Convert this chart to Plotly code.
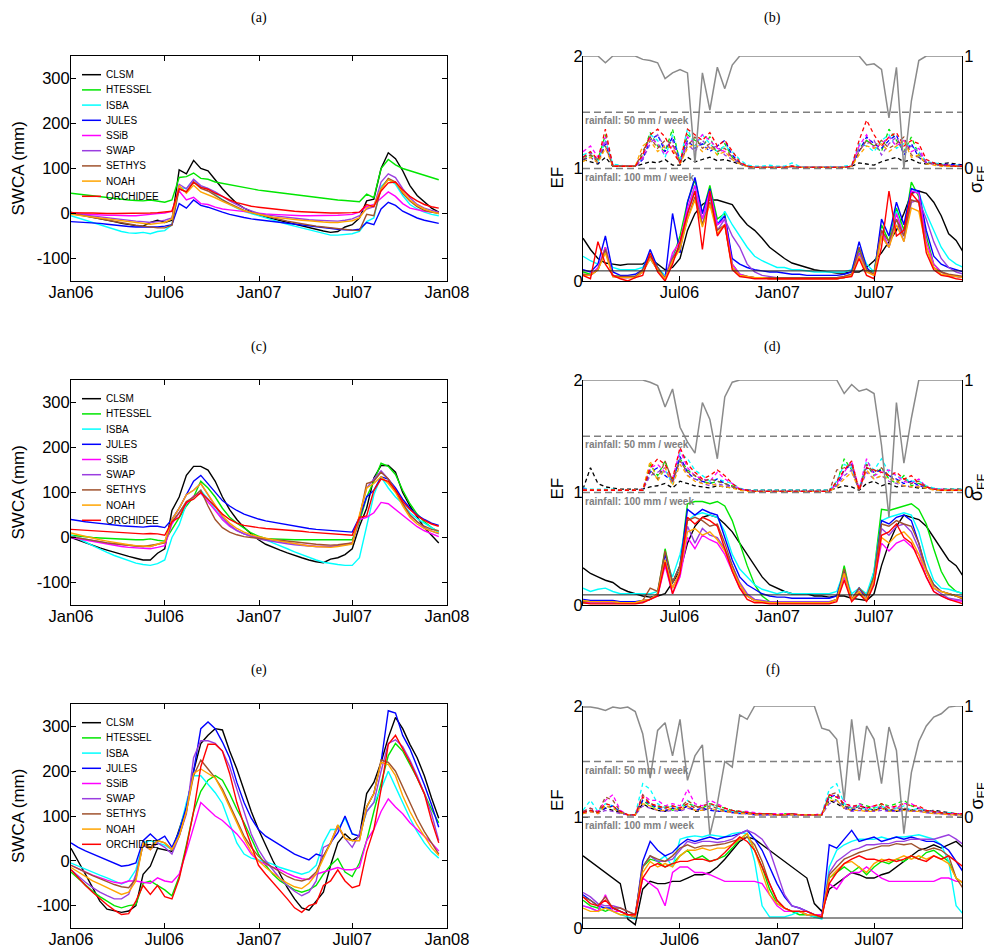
import pandas as pd
import plotly.graph_objects as go

# the page adds an 8 px body margin, so the figure is 8 px smaller and all
# pixel positions below are measured on the full 992 x 947 window
PAGE_OFF = 8
W, H = 992 - PAGE_OFF, 947 - PAGE_OFF

# weekly model output, sampled every two weeks
dates = pd.date_range("2006-01-01", periods=52, freq="14D")

models = ["CLSM", "HTESSEL", "ISBA", "JULES", "SSiB", "SWAP", "SETHYS", "NOAH", "ORCHIDEE"]
colors = ["#000000", "#00e600", "#00ffff", "#0000ff", "#ff00ff", "#9a3ee0", "#a0522d", "#ffa500", "#ff0000"]

panel_tags = ["(a)", "(b)", "(c)", "(d)", "(e)", "(f)"]
swca_ticks = [-100, 0, 100, 200, 300]
swca_ticktext = ["-100", "0", "100", "200", "300"]
date_ticks = ["2006-01-01", "2006-07-01", "2007-01-01", "2007-07-01", "2008-01-01"]
date_ticktext = ["Jan06", "Jul06", "Jan07", "Jul07", "Jan08"]
ef_ref = 0.09
rain_marks = [50, 100]

# SWCA (mm), left column
swca_a = {
    "CLSM": [3,-2,-5,-8,-12,-15,-18,-22,-25,-27,-28,-20,-15,-20,-15,97,88,118,100,95,75,55,38,22,12,4,-3,-8,-12,-16,-20,-24,-28,-32,-36,-39,-42,-40,-30,-25,-10,28,32,100,135,122,95,62,40,25,12,3],
    "HTESSEL": [45,43,41,39,37,35,33,32,30,29,28,30,27,25,30,80,82,90,78,76,70,67,64,60,58,55,52,50,48,45,43,41,39,37,35,33,31,30,29,28,26,43,35,100,120,108,100,95,90,85,80,75],
    "ISBA": [-5,-10,-15,-20,-25,-30,-35,-40,-43,-44,-42,-45,-40,-38,-25,58,55,75,60,55,42,30,20,12,5,0,-5,-10,-15,-20,-24,-28,-32,-36,-40,-44,-48,-48,-46,-45,-40,-18,-10,60,75,65,40,20,10,3,-2,-5],
    "JULES": [-18,-19,-20,-20,-22,-24,-26,-28,-29,-30,-30,-31,-30,-28,-25,22,12,30,18,14,8,3,-2,-6,-9,-12,-14,-16,-18,-20,-22,-24,-26,-28,-30,-32,-34,-35,-36,-37,-35,-20,-25,10,25,18,5,-3,-10,-15,-19,-22],
    "SSiB": [0,-1,-2,-3,-3,-4,-4,-5,-5,-5,-4,-2,0,1,5,50,30,36,22,20,14,10,8,6,4,2,0,-1,-2,-3,-4,-5,-5,-5,-5,-5,-5,-4,-3,-2,3,15,20,35,48,38,22,12,8,5,3,2],
    "SWAP": [0,-2,-4,-6,-8,-10,-12,-14,-15,-17,-18,-20,-18,-15,-10,65,55,76,62,56,48,38,28,20,12,6,0,-3,-5,-7,-9,-11,-13,-14,-15,-16,-17,-17,-15,-12,-5,10,15,70,88,80,55,35,20,12,7,3],
    "SETHYS": [0,-3,-6,-9,-12,-15,-18,-21,-24,-26,-28,-30,-32,-32,-26,55,48,70,56,50,40,30,22,14,7,2,-2,-6,-10,-13,-17,-20,-23,-26,-28,-30,-32,-34,-36,-37,-38,-2,-5,55,78,70,45,28,15,7,3,0],
    "NOAH": [-2,-4,-6,-8,-10,-12,-14,-16,-18,-20,-22,-24,-22,-20,-12,62,45,63,48,42,35,27,20,12,6,2,-2,-5,-8,-10,-12,-14,-15,-16,-18,-19,-20,-20,-18,-16,-10,12,18,55,75,68,48,30,18,10,4,0],
    "ORCHIDEE": [2,1,1,1,0,0,0,0,0,0,0,1,2,3,5,55,48,70,58,54,45,38,30,24,20,16,14,12,10,8,6,5,4,3,2,2,1,1,1,2,3,20,15,50,68,70,52,38,28,20,15,12],
}
swca_c = {
    "CLSM": [0,-6,-12,-18,-23,-28,-33,-38,-42,-46,-50,-50,-35,-25,60,90,138,158,158,150,125,90,62,40,22,8,-5,-15,-22,-28,-34,-40,-45,-50,-54,-56,-48,-45,-38,-25,25,65,132,160,160,145,100,70,45,22,5,-12],
    "HTESSEL": [5,3,2,0,-1,-2,-3,-4,-4,-5,-5,-3,-6,-8,18,45,70,90,125,110,90,65,45,32,20,10,3,-2,-3,-4,-5,-5,-5,-5,-5,-5,-5,-4,-5,-5,35,90,125,165,158,140,105,75,52,35,22,12],
    "ISBA": [5,-2,-10,-18,-26,-33,-40,-46,-52,-57,-60,-62,-58,-50,0,28,75,90,105,85,62,40,25,15,8,4,0,-5,-12,-18,-25,-32,-38,-45,-50,-55,-58,-60,-62,-62,-45,25,95,135,110,90,75,55,42,32,22,12],
    "JULES": [40,37,35,33,31,29,27,26,25,24,23,25,25,22,40,65,95,125,138,120,100,82,70,60,52,46,41,37,34,31,28,25,22,20,18,17,16,14,13,12,45,90,105,135,130,110,85,65,50,40,32,27],
    "SSiB": [0,-3,-6,-9,-12,-15,-18,-20,-22,-23,-24,-25,-22,-18,30,55,75,92,98,80,60,40,25,15,8,3,0,-3,-6,-9,-12,-14,-16,-18,-20,-20,-20,-18,-15,-12,40,45,55,78,75,62,48,35,24,15,8,2],
    "SWAP": [2,-1,-4,-7,-10,-12,-14,-16,-18,-19,-20,-20,-15,-10,40,65,95,105,120,95,70,45,28,16,8,2,-3,-6,-9,-12,-14,-16,-18,-19,-20,-20,-20,-18,-16,-14,45,110,130,148,130,105,75,50,35,22,14,8],
    "SETHYS": [2,-1,-4,-7,-10,-12,-14,-16,-18,-19,-20,-18,-15,-12,35,55,80,90,105,70,40,22,12,6,2,0,-2,-3,-5,-6,-8,-10,-12,-14,-15,-16,-17,-16,-14,-12,45,120,125,145,130,105,75,50,35,25,18,15],
    "NOAH": [10,6,2,-2,-5,-8,-11,-14,-16,-18,-19,-20,-15,-10,40,65,95,105,120,95,70,48,32,20,12,6,2,-2,-5,-8,-11,-14,-17,-19,-20,-21,-22,-20,-18,-15,50,110,120,135,120,100,70,45,30,20,14,10],
    "ORCHIDEE": [18,17,16,15,14,13,12,11,10,9,8,9,8,5,35,45,78,85,100,85,68,52,40,32,27,24,22,20,19,18,16,15,14,12,11,10,9,8,6,5,45,48,105,130,125,105,80,62,48,38,30,25],
}
swca_e = {
    "CLSM": [28,0,-30,-60,-90,-108,-112,-115,-112,-100,-30,-12,28,24,21,70,120,200,262,280,295,292,245,205,155,110,70,35,0,-30,-60,-85,-105,-110,-90,-70,-10,40,60,45,55,150,175,220,275,320,295,260,230,190,140,95],
    "HTESSEL": [-25,-40,-55,-68,-80,-90,-100,-105,-100,-98,-50,-45,-55,-65,-78,-35,35,110,155,180,190,180,150,115,85,50,15,-10,-30,-45,-55,-65,-70,-65,-55,-30,-10,5,-25,-35,-5,45,110,175,235,262,245,215,185,150,115,85],
    "ISBA": [-5,-12,-18,-25,-32,-38,-45,-52,-45,-20,40,45,40,35,25,65,130,190,190,172,152,128,85,40,15,6,2,-2,-8,-15,-20,-25,-30,-25,-10,40,70,70,95,60,55,110,130,160,200,165,130,95,65,40,20,6],
    "JULES": [40,30,22,15,8,2,-5,-12,-10,-5,45,60,45,55,30,65,120,200,295,310,295,265,230,175,130,95,70,55,45,35,25,15,8,2,15,10,40,62,100,60,55,120,150,220,335,330,280,250,210,170,125,75],
    "SSiB": [-10,-18,-25,-32,-38,-43,-48,-50,-45,-45,-48,-50,-38,-45,-48,-30,20,75,130,115,100,90,75,60,40,15,0,-8,-14,-20,-28,-35,-40,-42,-30,-25,-20,-15,-20,-20,-15,45,70,110,138,120,105,85,70,55,40,22],
    "SWAP": [-20,-35,-48,-60,-70,-78,-85,-85,-75,-30,35,25,40,30,15,55,105,230,268,268,262,245,210,160,110,60,25,0,-20,-40,-55,-68,-78,-70,-45,30,38,75,50,30,60,110,130,200,262,270,255,225,190,150,105,45],
    "SETHYS": [-10,-18,-25,-33,-40,-47,-53,-58,-60,-40,40,30,45,40,25,55,110,190,225,205,185,160,125,90,55,30,10,-5,-15,-25,-35,-42,-45,-40,-25,10,40,80,50,45,45,120,150,225,220,200,165,130,95,65,40,15],
    "NOAH": [-15,-25,-35,-45,-52,-60,-68,-75,-70,-45,40,25,45,40,25,55,110,195,205,195,185,155,120,85,50,20,0,-15,-28,-40,-50,-58,-62,-50,-30,5,40,80,50,45,45,120,150,220,215,190,145,110,80,55,30,12],
    "ORCHIDEE": [-20,-38,-55,-70,-85,-98,-110,-120,-118,-90,-55,-75,-55,-80,-85,-40,30,110,210,260,260,245,195,130,80,35,-10,-30,-48,-65,-85,-105,-115,-100,-95,-55,-45,-20,-45,-60,-55,20,70,160,260,280,250,220,185,150,90,40],
}

# EF (solid lines), right column
ef_b = {
    "CLSM": [.38,.28,.20,.16,.15,.14,.15,.15,.15,.20,.15,.10,.12,.20,.45,.60,.68,.72,.72,.70,.68,.58,.50,.45,.38,.30,.25,.20,.16,.14,.12,.10,.09,.08,.07,.07,.08,.08,.12,.18,.25,.35,.45,.60,.78,.80,.78,.70,.58,.42,.36,.25],
    "HTESSEL": [.08,.06,.10,.30,.05,.04,.04,.04,.08,.20,.10,.02,.20,.40,.70,.90,.60,.85,.55,.60,.15,.06,.04,.03,.03,.02,.02,.02,.02,.02,.02,.02,.02,.02,.02,.03,.05,.28,.10,.08,.50,.35,.65,.45,.88,.75,.40,.15,.08,.05,.04,.03],
    "ISBA": [.22,.18,.15,.25,.12,.10,.10,.10,.12,.25,.12,.05,.22,.30,.60,.85,.55,.78,.50,.62,.50,.40,.30,.22,.18,.15,.12,.12,.10,.10,.09,.08,.08,.08,.08,.08,.10,.30,.15,.08,.45,.30,.62,.40,.82,.78,.60,.45,.30,.20,.15,.12],
    "JULES": [.10,.08,.15,.40,.08,.05,.05,.06,.10,.28,.12,.02,.60,.25,.70,.92,.60,.82,.50,.58,.20,.15,.12,.10,.09,.08,.08,.07,.06,.06,.05,.05,.05,.05,.05,.06,.08,.35,.12,.05,.55,.40,.70,.50,.82,.80,.45,.22,.15,.12,.10,.08],
    "SSiB": [.06,.05,.12,.30,.05,.03,.03,.04,.08,.22,.10,.02,.25,.35,.65,.85,.55,.80,.50,.55,.15,.06,.04,.03,.03,.02,.02,.02,.02,.02,.02,.02,.02,.02,.02,.03,.05,.25,.10,.05,.45,.30,.60,.40,.80,.78,.35,.15,.08,.05,.04,.03],
    "SWAP": [.05,.05,.10,.28,.04,.03,.03,.03,.08,.20,.10,.02,.22,.30,.60,.80,.50,.75,.45,.55,.40,.30,.15,.08,.05,.04,.03,.03,.03,.03,.03,.03,.03,.03,.03,.04,.06,.25,.10,.06,.40,.30,.55,.35,.70,.72,.55,.35,.20,.12,.08,.06],
    "SETHYS": [.06,.05,.10,.28,.04,.04,.04,.04,.10,.22,.12,.02,.20,.30,.55,.75,.50,.70,.45,.50,.12,.05,.04,.03,.03,.03,.03,.03,.03,.03,.03,.03,.03,.03,.03,.04,.06,.30,.10,.06,.45,.35,.55,.40,.72,.70,.30,.12,.08,.06,.05,.04],
    "NOAH": [.05,.05,.10,.25,.04,.03,.03,.03,.08,.20,.10,.02,.18,.28,.55,.72,.48,.68,.42,.50,.12,.05,.04,.03,.03,.02,.02,.02,.02,.02,.02,.02,.02,.02,.02,.03,.05,.22,.08,.05,.40,.30,.50,.35,.65,.62,.30,.12,.06,.05,.04,.03],
    "ORCHIDEE": [.05,.02,.35,.15,.05,.02,.00,.03,.05,.25,.08,.00,.15,.35,.60,.80,.28,.80,.40,.50,.10,.04,.03,.02,.02,.02,.02,.02,.02,.02,.02,.02,.02,.02,.02,.03,.04,.20,.05,.02,.30,.80,.40,.45,.78,.70,.25,.10,.05,.04,.02,.01],
}
ef_d = {
    "CLSM": [.33,.28,.25,.22,.20,.15,.12,.10,.08,.07,.08,.10,.20,.30,.55,.70,.78,.80,.78,.72,.65,.55,.45,.35,.25,.18,.15,.12,.10,.10,.10,.08,.08,.07,.08,.08,.06,.05,.04,.10,.35,.55,.70,.80,.78,.76,.70,.60,.50,.40,.35,.25],
    "HTESSEL": [.02,.02,.02,.02,.02,.02,.02,.02,.03,.05,.10,.50,.20,.35,.90,.92,.92,.90,.92,.88,.75,.55,.35,.18,.08,.03,.02,.02,.02,.02,.02,.02,.02,.02,.05,.35,.05,.10,.05,.30,.85,.84,.86,.88,.90,.85,.72,.50,.30,.18,.12,.10],
    "ISBA": [.15,.12,.14,.15,.12,.10,.10,.10,.10,.10,.12,.40,.25,.45,.75,.80,.82,.80,.78,.65,.45,.32,.25,.18,.14,.12,.10,.12,.10,.10,.10,.10,.10,.10,.12,.30,.10,.15,.10,.30,.75,.78,.80,.82,.80,.65,.40,.22,.15,.14,.12,.10],
    "JULES": [.05,.04,.04,.04,.04,.03,.03,.03,.04,.05,.10,.45,.20,.35,.85,.80,.85,.82,.80,.60,.40,.25,.18,.14,.10,.08,.07,.07,.06,.06,.06,.06,.06,.06,.08,.30,.05,.15,.05,.25,.75,.72,.78,.80,.75,.55,.30,.18,.12,.10,.08,.07],
    "SSiB": [.03,.02,.02,.02,.02,.02,.02,.02,.03,.05,.08,.35,.10,.25,.60,.50,.62,.58,.55,.45,.30,.15,.08,.04,.03,.02,.02,.02,.02,.02,.02,.02,.02,.02,.05,.25,.05,.12,.05,.20,.55,.48,.55,.58,.52,.45,.25,.12,.08,.05,.04,.03],
    "SWAP": [.04,.03,.03,.03,.03,.02,.02,.02,.03,.05,.10,.40,.15,.30,.70,.55,.68,.62,.60,.50,.35,.20,.10,.05,.04,.03,.03,.03,.03,.03,.03,.03,.03,.03,.05,.28,.05,.12,.05,.22,.68,.62,.70,.72,.65,.50,.30,.15,.10,.06,.05,.04],
    "SETHYS": [.03,.03,.03,.03,.03,.02,.02,.02,.04,.15,.12,.48,.20,.35,.75,.78,.75,.70,.72,.55,.35,.18,.08,.04,.03,.02,.02,.02,.02,.02,.02,.02,.02,.02,.05,.32,.05,.15,.08,.25,.72,.70,.75,.72,.70,.55,.32,.18,.12,.10,.08,.05],
    "NOAH": [.04,.03,.03,.03,.03,.02,.02,.02,.04,.05,.10,.40,.15,.30,.65,.68,.62,.65,.58,.48,.32,.18,.08,.04,.03,.02,.02,.02,.02,.02,.02,.02,.02,.02,.05,.28,.05,.12,.05,.22,.60,.55,.62,.65,.58,.45,.30,.15,.12,.10,.08,.06],
    "ORCHIDEE": [.02,.01,.01,.01,.01,.01,.01,.01,.02,.05,.08,.38,.10,.28,.78,.72,.78,.75,.70,.50,.30,.15,.05,.02,.02,.01,.01,.01,.01,.01,.01,.01,.01,.01,.03,.22,.03,.10,.03,.18,.62,.65,.72,.60,.55,.40,.25,.12,.08,.05,.03,.01],
}
ef_f = {
    "CLSM": [.65,.60,.55,.50,.45,.40,.08,.03,.35,.42,.40,.40,.42,.42,.45,.48,.48,.50,.55,.62,.70,.78,.82,.80,.75,.70,.65,.60,.55,.50,.45,.22,.15,.35,.40,.45,.50,.48,.45,.45,.48,.50,.55,.60,.65,.70,.72,.75,.72,.75,.78,.72],
    "HTESSEL": [.25,.20,.18,.15,.18,.15,.12,.10,.55,.62,.60,.55,.58,.65,.70,.62,.65,.60,.62,.65,.72,.80,.85,.70,.55,.35,.22,.18,.15,.12,.12,.10,.10,.45,.50,.55,.50,.55,.48,.55,.60,.58,.62,.60,.65,.62,.68,.70,.65,.60,.45,.40],
    "ISBA": [.20,.18,.15,.18,.15,.12,.10,.08,.55,.65,.60,.65,.55,.80,.82,.83,.82,.84,.83,.82,.85,.86,.85,.60,.20,.10,.10,.10,.12,.15,.12,.10,.08,.55,.70,.75,.78,.80,.80,.80,.82,.80,.82,.82,.83,.84,.82,.80,.75,.60,.20,.12],
    "JULES": [.30,.25,.20,.18,.18,.15,.12,.10,.60,.78,.70,.65,.68,.75,.80,.78,.80,.82,.80,.82,.83,.85,.88,.80,.70,.55,.40,.28,.20,.18,.15,.12,.10,.75,.72,.80,.88,.78,.80,.82,.78,.80,.82,.80,.82,.80,.78,.78,.75,.70,.60,.50],
    "SSiB": [.20,.18,.15,.30,.15,.15,.12,.10,.45,.40,.35,.20,.50,.55,.55,.50,.50,.48,.45,.42,.42,.42,.42,.42,.40,.30,.20,.15,.15,.15,.12,.12,.12,.40,.35,.45,.50,.50,.55,.50,.45,.42,.42,.42,.42,.42,.42,.42,.45,.45,.42,.42],
    "SWAP": [.32,.28,.22,.20,.20,.18,.15,.12,.55,.65,.60,.60,.62,.70,.78,.76,.78,.78,.77,.78,.80,.85,.88,.85,.80,.70,.50,.30,.20,.18,.15,.12,.10,.50,.60,.65,.70,.72,.75,.75,.76,.76,.78,.78,.80,.80,.80,.80,.82,.84,.80,.75],
    "SETHYS": [.28,.25,.20,.28,.18,.18,.15,.12,.55,.65,.62,.60,.65,.72,.75,.72,.74,.74,.75,.76,.78,.80,.82,.75,.60,.40,.25,.18,.15,.15,.12,.12,.10,.48,.55,.62,.65,.68,.70,.72,.74,.74,.76,.75,.76,.72,.70,.72,.70,.65,.45,.35],
    "NOAH": [.18,.15,.15,.18,.15,.12,.12,.10,.50,.60,.55,.58,.55,.65,.70,.70,.72,.70,.72,.72,.75,.80,.85,.70,.50,.30,.22,.18,.15,.15,.12,.12,.10,.45,.52,.58,.60,.55,.50,.58,.62,.60,.62,.65,.62,.65,.62,.65,.62,.58,.45,.40],
    "ORCHIDEE": [.28,.22,.20,.25,.18,.15,.12,.12,.45,.55,.58,.55,.58,.60,.60,.62,.62,.60,.62,.68,.75,.82,.78,.70,.55,.40,.25,.18,.15,.15,.15,.12,.10,.40,.50,.58,.62,.65,.62,.62,.60,.62,.60,.62,.65,.62,.60,.65,.62,.65,.60,.55],
}

# sigma_EF (dashed lines, right axis)
sig_b = {
    "CLSM": [.08,.06,.04,.10,.02,.02,.02,.02,.04,.06,.05,.08,.03,.03,.10,.06,.08,.10,.07,.08,.06,.04,.02,.01,.01,.01,.01,.01,.02,.01,.01,.01,.01,.01,.01,.01,.02,.05,.04,.03,.06,.08,.10,.06,.08,.05,.04,.05,.04,.05,.04,.03],
    "HTESSEL": [.10,.12,.08,.30,.03,.02,.02,.02,.12,.32,.20,.15,.35,.05,.30,.25,.20,.28,.12,.22,.10,.04,.02,.01,.01,.01,.01,.01,.02,.01,.01,.01,.01,.01,.01,.01,.02,.18,.25,.20,.15,.35,.25,.15,.28,.12,.06,.04,.03,.03,.02,.02],
    "ISBA": [.12,.15,.06,.25,.04,.03,.02,.02,.10,.30,.25,.10,.30,.08,.35,.20,.30,.22,.15,.20,.15,.08,.03,.02,.02,.03,.02,.02,.05,.02,.01,.01,.01,.02,.01,.02,.03,.22,.20,.15,.25,.30,.18,.22,.20,.15,.06,.05,.04,.03,.03,.03],
    "JULES": [.08,.10,.05,.22,.02,.02,.02,.02,.08,.25,.30,.15,.28,.06,.25,.18,.22,.15,.20,.25,.12,.05,.02,.01,.01,.01,.01,.01,.02,.01,.01,.01,.01,.01,.01,.01,.02,.15,.28,.22,.18,.25,.30,.12,.22,.10,.05,.04,.03,.04,.03,.03],
    "SSiB": [.15,.20,.10,.28,.03,.02,.02,.02,.10,.28,.22,.12,.20,.04,.28,.22,.30,.25,.18,.15,.10,.05,.02,.01,.01,.01,.01,.01,.02,.01,.01,.01,.01,.01,.01,.01,.02,.20,.30,.18,.22,.28,.20,.25,.15,.18,.05,.04,.03,.03,.02,.02],
    "SWAP": [.10,.14,.07,.25,.03,.02,.02,.02,.08,.22,.30,.18,.25,.05,.22,.15,.25,.18,.20,.12,.08,.04,.02,.01,.01,.01,.01,.01,.02,.01,.01,.01,.01,.01,.01,.01,.02,.18,.22,.25,.12,.22,.28,.15,.20,.14,.06,.04,.03,.02,.02,.02],
    "SETHYS": [.08,.12,.06,.20,.02,.02,.02,.02,.15,.28,.18,.25,.22,.04,.20,.28,.18,.22,.15,.18,.10,.05,.02,.01,.01,.01,.01,.01,.02,.01,.01,.01,.01,.01,.01,.01,.02,.15,.25,.20,.25,.18,.22,.28,.12,.10,.05,.04,.03,.02,.02,.02],
    "NOAH": [.06,.10,.05,.18,.02,.02,.02,.02,.20,.25,.15,.20,.18,.04,.18,.22,.15,.20,.12,.15,.08,.04,.02,.01,.01,.01,.01,.01,.02,.01,.01,.01,.01,.01,.01,.01,.02,.12,.20,.18,.22,.15,.20,.25,.10,.12,.04,.03,.02,.02,.02,.02],
    "ORCHIDEE": [.10,.15,.08,.35,.02,.02,.02,.02,.12,.30,.35,.28,.15,.05,.35,.30,.25,.32,.20,.25,.15,.06,.02,.01,.01,.01,.01,.01,.02,.01,.01,.01,.01,.01,.01,.01,.02,.25,.43,.30,.20,.28,.32,.20,.25,.22,.08,.05,.03,.03,.02,.02],
}
sig_d = {
    "CLSM": [.03,.22,.08,.05,.04,.03,.03,.03,.03,.05,.06,.08,.04,.10,.08,.06,.05,.04,.06,.05,.04,.03,.02,.02,.02,.02,.02,.02,.02,.02,.02,.02,.02,.02,.04,.06,.05,.02,.08,.10,.06,.08,.05,.06,.05,.04,.04,.03,.03,.03,.03,.03],
    "HTESSEL": [.02,.02,.02,.02,.02,.02,.02,.02,.02,.25,.15,.28,.10,.30,.20,.15,.10,.08,.10,.08,.06,.03,.02,.01,.01,.01,.01,.01,.01,.01,.01,.01,.01,.01,.08,.30,.20,.02,.25,.15,.22,.12,.08,.15,.06,.08,.05,.03,.02,.02,.02,.02],
    "ISBA": [.04,.03,.03,.03,.03,.02,.02,.02,.03,.20,.12,.20,.08,.35,.30,.20,.15,.10,.12,.10,.08,.04,.02,.02,.02,.02,.02,.02,.02,.02,.02,.02,.02,.02,.10,.25,.22,.03,.28,.20,.30,.18,.15,.12,.10,.10,.06,.04,.03,.03,.03,.03],
    "JULES": [.03,.02,.02,.02,.02,.02,.02,.02,.02,.18,.22,.15,.10,.32,.18,.12,.10,.08,.12,.08,.05,.03,.02,.01,.01,.01,.01,.01,.01,.01,.01,.01,.01,.01,.06,.20,.25,.02,.22,.18,.20,.15,.12,.08,.10,.06,.05,.03,.02,.02,.02,.02],
    "SSiB": [.03,.02,.02,.02,.02,.02,.02,.02,.03,.22,.25,.18,.12,.38,.22,.15,.12,.10,.18,.12,.08,.03,.02,.01,.01,.01,.01,.01,.01,.01,.01,.01,.01,.01,.08,.18,.28,.03,.30,.15,.18,.20,.15,.10,.08,.12,.05,.03,.03,.02,.02,.02],
    "SWAP": [.02,.02,.02,.02,.02,.02,.02,.02,.02,.15,.18,.22,.08,.30,.15,.12,.08,.06,.08,.06,.05,.03,.02,.01,.01,.01,.01,.01,.01,.01,.01,.01,.01,.01,.06,.15,.20,.02,.18,.12,.15,.10,.08,.06,.05,.06,.04,.03,.02,.02,.02,.02],
    "SETHYS": [.02,.02,.02,.02,.02,.02,.02,.02,.02,.20,.12,.28,.10,.28,.18,.15,.10,.12,.10,.08,.05,.03,.02,.01,.01,.01,.01,.01,.01,.01,.01,.01,.01,.01,.20,.22,.25,.02,.25,.18,.22,.15,.10,.12,.08,.10,.05,.03,.02,.02,.02,.02],
    "NOAH": [.02,.02,.02,.02,.02,.02,.02,.02,.02,.28,.10,.22,.06,.25,.15,.10,.08,.08,.06,.05,.04,.02,.01,.01,.01,.01,.01,.01,.01,.01,.01,.01,.01,.01,.05,.12,.18,.02,.20,.12,.15,.12,.10,.06,.05,.05,.04,.02,.02,.02,.02,.02],
    "ORCHIDEE": [.02,.02,.02,.02,.02,.02,.02,.02,.02,.22,.30,.25,.12,.40,.25,.18,.12,.15,.20,.15,.08,.03,.02,.01,.01,.01,.01,.01,.01,.01,.01,.01,.01,.01,.10,.20,.28,.02,.22,.20,.18,.15,.18,.12,.15,.08,.05,.03,.02,.02,.02,.02],
}
sig_f = {
    "CLSM": [.04,.05,.04,.08,.06,.04,.02,.02,.12,.08,.06,.05,.08,.06,.10,.05,.06,.08,.05,.06,.04,.05,.03,.03,.02,.03,.02,.02,.03,.02,.02,.02,.02,.15,.12,.08,.06,.10,.08,.06,.08,.06,.05,.07,.06,.08,.05,.06,.05,.04,.03,.03],
    "HTESSEL": [.03,.06,.04,.10,.08,.04,.02,.02,.15,.10,.08,.10,.06,.08,.12,.10,.08,.12,.10,.08,.06,.05,.04,.03,.03,.03,.02,.03,.02,.02,.02,.02,.02,.18,.15,.10,.08,.12,.10,.08,.12,.10,.12,.15,.10,.08,.06,.05,.04,.03,.03,.02],
    "ISBA": [.06,.15,.05,.12,.10,.05,.02,.02,.30,.25,.12,.08,.10,.08,.15,.08,.10,.12,.08,.06,.05,.04,.04,.03,.03,.03,.02,.02,.03,.02,.02,.02,.03,.25,.30,.12,.08,.10,.06,.08,.10,.06,.08,.10,.06,.08,.05,.05,.04,.04,.03,.03],
    "JULES": [.04,.06,.04,.08,.10,.04,.02,.02,.15,.12,.08,.06,.08,.06,.10,.06,.08,.06,.05,.05,.04,.03,.03,.02,.02,.02,.02,.02,.02,.02,.02,.02,.02,.18,.20,.10,.06,.08,.06,.06,.08,.05,.06,.08,.05,.06,.04,.04,.03,.03,.02,.02],
    "SSiB": [.05,.08,.05,.15,.20,.06,.02,.02,.20,.15,.15,.10,.12,.10,.25,.12,.10,.15,.12,.08,.06,.05,.05,.04,.03,.03,.03,.03,.03,.02,.02,.02,.03,.20,.18,.15,.08,.12,.08,.10,.08,.10,.08,.12,.12,.08,.06,.05,.04,.03,.03,.03],
    "SWAP": [.03,.05,.03,.06,.05,.03,.02,.02,.10,.08,.06,.05,.06,.05,.08,.06,.06,.08,.05,.05,.04,.03,.03,.02,.02,.02,.02,.02,.02,.02,.02,.02,.02,.12,.15,.08,.05,.06,.05,.05,.06,.05,.05,.06,.05,.05,.04,.03,.03,.02,.02,.02],
    "SETHYS": [.05,.08,.04,.18,.15,.05,.02,.02,.20,.12,.10,.08,.10,.08,.15,.10,.08,.10,.08,.06,.05,.04,.04,.03,.03,.03,.02,.02,.03,.02,.02,.02,.02,.20,.22,.10,.08,.08,.06,.06,.10,.06,.08,.08,.06,.06,.05,.04,.03,.03,.02,.02],
    "NOAH": [.03,.05,.03,.10,.08,.04,.02,.02,.12,.10,.06,.06,.08,.06,.10,.06,.06,.08,.06,.05,.04,.03,.03,.02,.02,.02,.02,.02,.02,.02,.02,.02,.02,.15,.15,.08,.06,.06,.05,.05,.08,.05,.06,.06,.05,.05,.04,.03,.03,.02,.02,.02],
    "ORCHIDEE": [.04,.06,.04,.12,.10,.05,.02,.02,.18,.12,.10,.08,.10,.08,.12,.08,.10,.12,.10,.08,.06,.05,.04,.03,.03,.03,.02,.02,.03,.02,.02,.02,.02,.20,.18,.12,.10,.10,.08,.10,.12,.08,.10,.12,.10,.10,.06,.05,.04,.03,.03,.03],
}

# weekly rainfall (mm / week), grey line on an inverted axis
rain_b = [0,0,0,6,0,0,0,0,3,4,6,20,15,12,15,95,15,48,10,29,8,0,0,0,0,0,0,0,0,0,0,0,0,0,0,0,0,0,8,7,12,55,10,100,40,4,0,0,0,0,0,0]
rain_d = [0,0,0,0,0,0,0,0,0,2,5,24,8,42,55,65,20,35,70,15,2,0,0,0,0,0,0,0,0,0,0,0,0,0,0,12,4,10,8,12,58,122,20,74,34,0,0,0,0,0,0,0]
rain_f = [1,1,2,4,1,2,1,5,25,65,22,15,45,12,67,45,35,116,88,50,55,8,12,0,0,0,0,0,0,0,0,0,20,22,30,85,12,67,18,30,70,19,40,115,60,32,18,10,7,1,0,0]

# ---- layout (pixel positions of the panels in the 992 x 947 window) ----
L0, L1 = 71, 447
R0, R1 = 583, 962
rows = [
    dict(swca=swca_a, ef=ef_b, sig=sig_b, rain=rain_b, top=56, bot=281, rtop=56, tag_y=18),
    dict(swca=swca_c, ef=ef_d, sig=sig_d, rain=rain_d, top=380, bot=605, rtop=380, tag_y=347),
    dict(swca=swca_e, ef=ef_f, sig=sig_f, rain=rain_f, top=704, bot=928, rtop=706, tag_y=670),
]


def fx(p):
    return (p - PAGE_OFF) / W


def fy(p):
    return 1 - (p - PAGE_OFF) / H


def nm(kind, n):
    return kind if n == 1 else f"{kind}{n}"


tick_font = dict(family="Liberation Sans", size=16.5, color="black")
base_axis = dict(ticks="inside", ticklen=5, tickwidth=1, tickcolor="black", showline=True,
                 linecolor="black", linewidth=1, showgrid=False, zeroline=False,
                 automargin=False, tickfont=tick_font)

fig = go.Figure()
layout = {}
shapes, annots = [], []

for r, row in enumerate(rows):
    xl, xr = 2 * r + 1, 2 * r + 2
    yl, ye, ys, yr = 4 * r + 1, 4 * r + 2, 4 * r + 3, 4 * r + 4
    top, bot, rtop = row["top"], row["bot"], row["rtop"]

    # left: SWCA
    layout[nm("xaxis", xl)] = dict(base_axis, domain=[fx(L0), fx(L1)], anchor=nm("y", yl), type="date",
                                   range=[date_ticks[0], date_ticks[-1]], tickvals=date_ticks,
                                   ticktext=date_ticktext, mirror="ticks", ticklabelstandoff=-4)
    layout[nm("yaxis", yl)] = dict(base_axis, domain=[fy(bot), fy(top)], anchor=nm("x", xl),
                                   range=[-150, 350], tickvals=swca_ticks, ticktext=swca_ticktext,
                                   mirror="ticks", ticklabelstandoff=-3)
    for m, c in zip(models, colors):
        fig.add_trace(go.Scatter(x=dates, y=row["swca"][m], mode="lines", name=m, showlegend=False,
                                 line=dict(color=c, width=1.4), xaxis=nm("x", xl), yaxis=nm("y", yl)))

    # hand-made legend (compact spacing like the original)
    for k, (m, c) in enumerate(zip(models, colors)):
        yy = top + 18.7 + 15.2 * k
        shapes.append(dict(type="line", xref="paper", yref="paper", x0=fx(82), x1=fx(101),
                           y0=fy(yy), y1=fy(yy), line=dict(color=c, width=1.5)))
        annots.append(dict(text=m, xref="paper", yref="paper", x=fx(104), y=fy(yy), xanchor="left",
                           yanchor="middle", showarrow=False,
                           font=dict(family="Liberation Sans", size=10, color="black")))

    annots.append(dict(text="SWCA (mm)", xref="paper", yref="paper", x=fx(18), y=fy((top + bot) / 2),
                       textangle=-90, showarrow=False, xanchor="center", yanchor="middle",
                       font=dict(family="Liberation Sans", size=17, color="black")))

    # right: EF, sigma_EF and rainfall
    layout[nm("xaxis", xr)] = dict(base_axis, domain=[fx(R0), fx(R1)], anchor=nm("y", ye), type="date",
                                   range=["2006-01-01", "2007-12-13"], tickvals=date_ticks[1:4],
                                   ticktext=date_ticktext[1:4], ticklabelstandoff=-4)
    layout[nm("yaxis", ye)] = dict(base_axis, domain=[fy(bot), fy(rtop)], anchor=nm("x", xr),
                                   range=[0, 2], tickvals=[0, 1, 2], ticktext=["0", "1", "2"],
                                   ticklabelstandoff=-4)
    layout[nm("yaxis", ys)] = dict(base_axis, overlaying=nm("y", ye), anchor=nm("x", xr), side="right",
                                   range=[-1, 1], tickvals=[0, 1], ticktext=["0", "1"],
                                   ticklabelstandoff=-2)
    layout[nm("yaxis", yr)] = dict(overlaying=nm("y", ye), anchor=nm("x", xr), range=[200, 0],
                                   visible=False, automargin=False)

    shapes.append(dict(type="line", xref=f"{nm('x', xr)} domain", x0=0, x1=1, yref=nm("y", ye),
                       y0=ef_ref, y1=ef_ref, line=dict(color="#202020", width=1)))
    for v in rain_marks:
        shapes.append(dict(type="line", xref=f"{nm('x', xr)} domain", x0=0, x1=1, yref=nm("y", yr),
                           y0=v, y1=v, line=dict(color="#7f7f7f", width=1.5, dash="7px,4px")))
        annots.append(dict(text=f"<b>rainfall: {v} mm / week</b>", xref=f"{nm('x', xr)} domain", x=0,
                           yref=nm("y", yr), y=v, xanchor="left", yanchor="top", yshift=-1,
                           showarrow=False, font=dict(family="Liberation Sans", size=10, color="#7f7f7f")))

    for m, c in zip(models, colors):
        fig.add_trace(go.Scatter(x=dates, y=row["sig"][m], mode="lines", name=m, showlegend=False,
                                 line=dict(color=c, width=1.3, dash="4px,3px"),
                                 xaxis=nm("x", xr), yaxis=nm("y", ys)))
    for m, c in zip(models, colors):
        fig.add_trace(go.Scatter(x=dates, y=row["ef"][m], mode="lines", name=m, showlegend=False,
                                 line=dict(color=c, width=1.4), xaxis=nm("x", xr), yaxis=nm("y", ye)))
    fig.add_trace(go.Scatter(x=dates, y=row["rain"], mode="lines", name="rainfall", showlegend=False,
                             line=dict(color="#8a8a8a", width=1.5), xaxis=nm("x", xr), yaxis=nm("y", yr)))

    mid = (bot + rtop) / 2
    annots.append(dict(text="EF", xref="paper", yref="paper", x=fx(557), y=fy(mid - 4), textangle=-90,
                       showarrow=False, font=dict(family="Liberation Sans", size=17, color="black")))
    annots.append(dict(text="σ<sub>EF</sub>", xref="paper", yref="paper", x=fx(991), y=fy(mid - 5),
                       textangle=-90, showarrow=False,
                       font=dict(family="Liberation Sans", size=18, color="black")))

    for j, xc in enumerate([(L0 + L1) / 2, (R0 + R1) / 2]):
        annots.append(dict(text=panel_tags[2 * r + j], xref="paper", yref="paper", x=fx(xc),
                           y=fy(row["tag_y"]), showarrow=False, xanchor="center", yanchor="middle",
                           font=dict(family="Liberation Serif", size=14, color="black")))

fig.update_layout(
    width=W, height=H,
    margin=dict(l=0, r=0, t=0, b=0),
    paper_bgcolor="white", plot_bgcolor="white",
    showlegend=False,
    shapes=shapes, annotations=annots,
    font=dict(family="Liberation Sans", color="black"),
    **layout,
)

fig.write_html("out.html")
